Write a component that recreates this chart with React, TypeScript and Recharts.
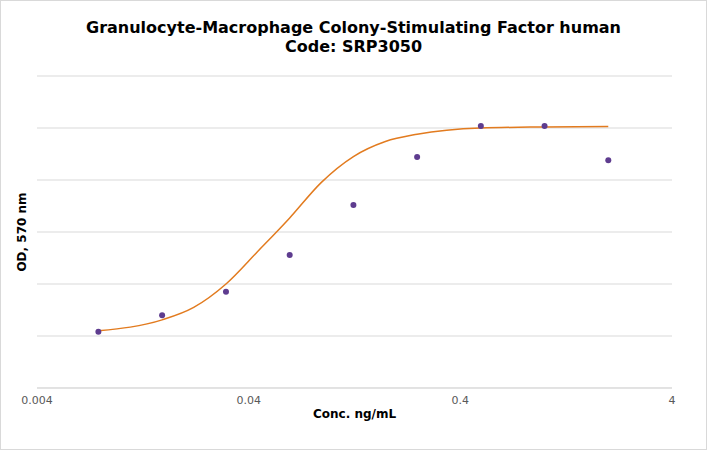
import React from "react";
import { ComposedChart, Line, Scatter, XAxis, YAxis, CartesianGrid, Label } from "recharts";

const conc = [0.0078, 0.0156, 0.03125, 0.0625, 0.125, 0.25, 0.5, 1, 2];
const od = [0.108, 0.14, 0.185, 0.256, 0.352, 0.444, 0.504, 0.504, 0.438];

const fitConc = [0.0078, 0.0156, 0.022, 0.03125, 0.044, 0.0625, 0.088, 0.125, 0.177, 0.25, 0.5, 1, 2];
const fitOd = [0.11, 0.131, 0.155, 0.2, 0.262, 0.327, 0.395, 0.445, 0.474, 0.488, 0.5, 0.502, 0.503];

const xTicks = [0.004, 0.04, 0.4, 4];
const yTicks = [0, 0.1, 0.2, 0.3, 0.4, 0.5, 0.6];

const points = conc.map((x, i) => ({ x, y: od[i] }));
const fit = fitConc.map((x, i) => ({ x, y: fitOd[i] }));

const font = "Verdana, 'DejaVu Sans', sans-serif";

export default function App() {
  return (
    <div style={{ position: "absolute", left: 0, top: 0, width: 707, height: 450, fontFamily: font }}>
      <div style={{ position: "absolute", inset: 0, border: "1px solid #d9d9d9", boxSizing: "border-box" }} />
      <div style={{ position: "absolute", top: 18, width: 707, textAlign: "center", fontWeight: "bold", fontSize: 16, lineHeight: "19px", color: "#000" }}>
        Granulocyte-Macrophage Colony-Stimulating Factor human
        <br />
        Code: SRP3050
      </div>
      <div style={{ position: "absolute", left: 22, top: 232, transform: "translate(-50%, -50%) rotate(-90deg)", whiteSpace: "nowrap", fontSize: 12, fontWeight: "bold", color: "#000" }}>
        OD, 570 nm
      </div>
      <ComposedChart width={707} height={450} margin={{ top: 76, right: 35, left: 0, bottom: 32 }}>
        <CartesianGrid vertical={false} stroke="#d9d9d9" />
        <XAxis
          dataKey="x"
          type="number"
          scale="log"
          domain={[0.004, 4]}
          ticks={xTicks}
          tickFormatter={(v) => String(v)}
          tick={{ fontSize: 11, fill: "#595959", fontFamily: font }}
          tickLine={false}
          axisLine={{ stroke: "#d9d9d9" }}
          height={30}
          allowDataOverflow
        >
          <Label value="Conc. ng/mL" position="insideBottom" offset={0} style={{ fontSize: 12, fontWeight: "bold", fill: "#000", fontFamily: font }} />
        </XAxis>
        <YAxis type="number" domain={[0, 0.6]} ticks={yTicks} width={37} tickFormatter={() => ""} axisLine={false} tickLine={false} />
        <Line data={fit} dataKey="y" type="monotone" stroke="#e27b1f" strokeWidth={1.5} dot={false} isAnimationActive={false} />
        <Scatter data={points} dataKey="y" fill="#5e3c8f" shape={(p: any) => <circle cx={p.cx} cy={p.cy} r={3} fill="#5e3c8f" />} isAnimationActive={false} />
      </ComposedChart>
    </div>
  );
}
